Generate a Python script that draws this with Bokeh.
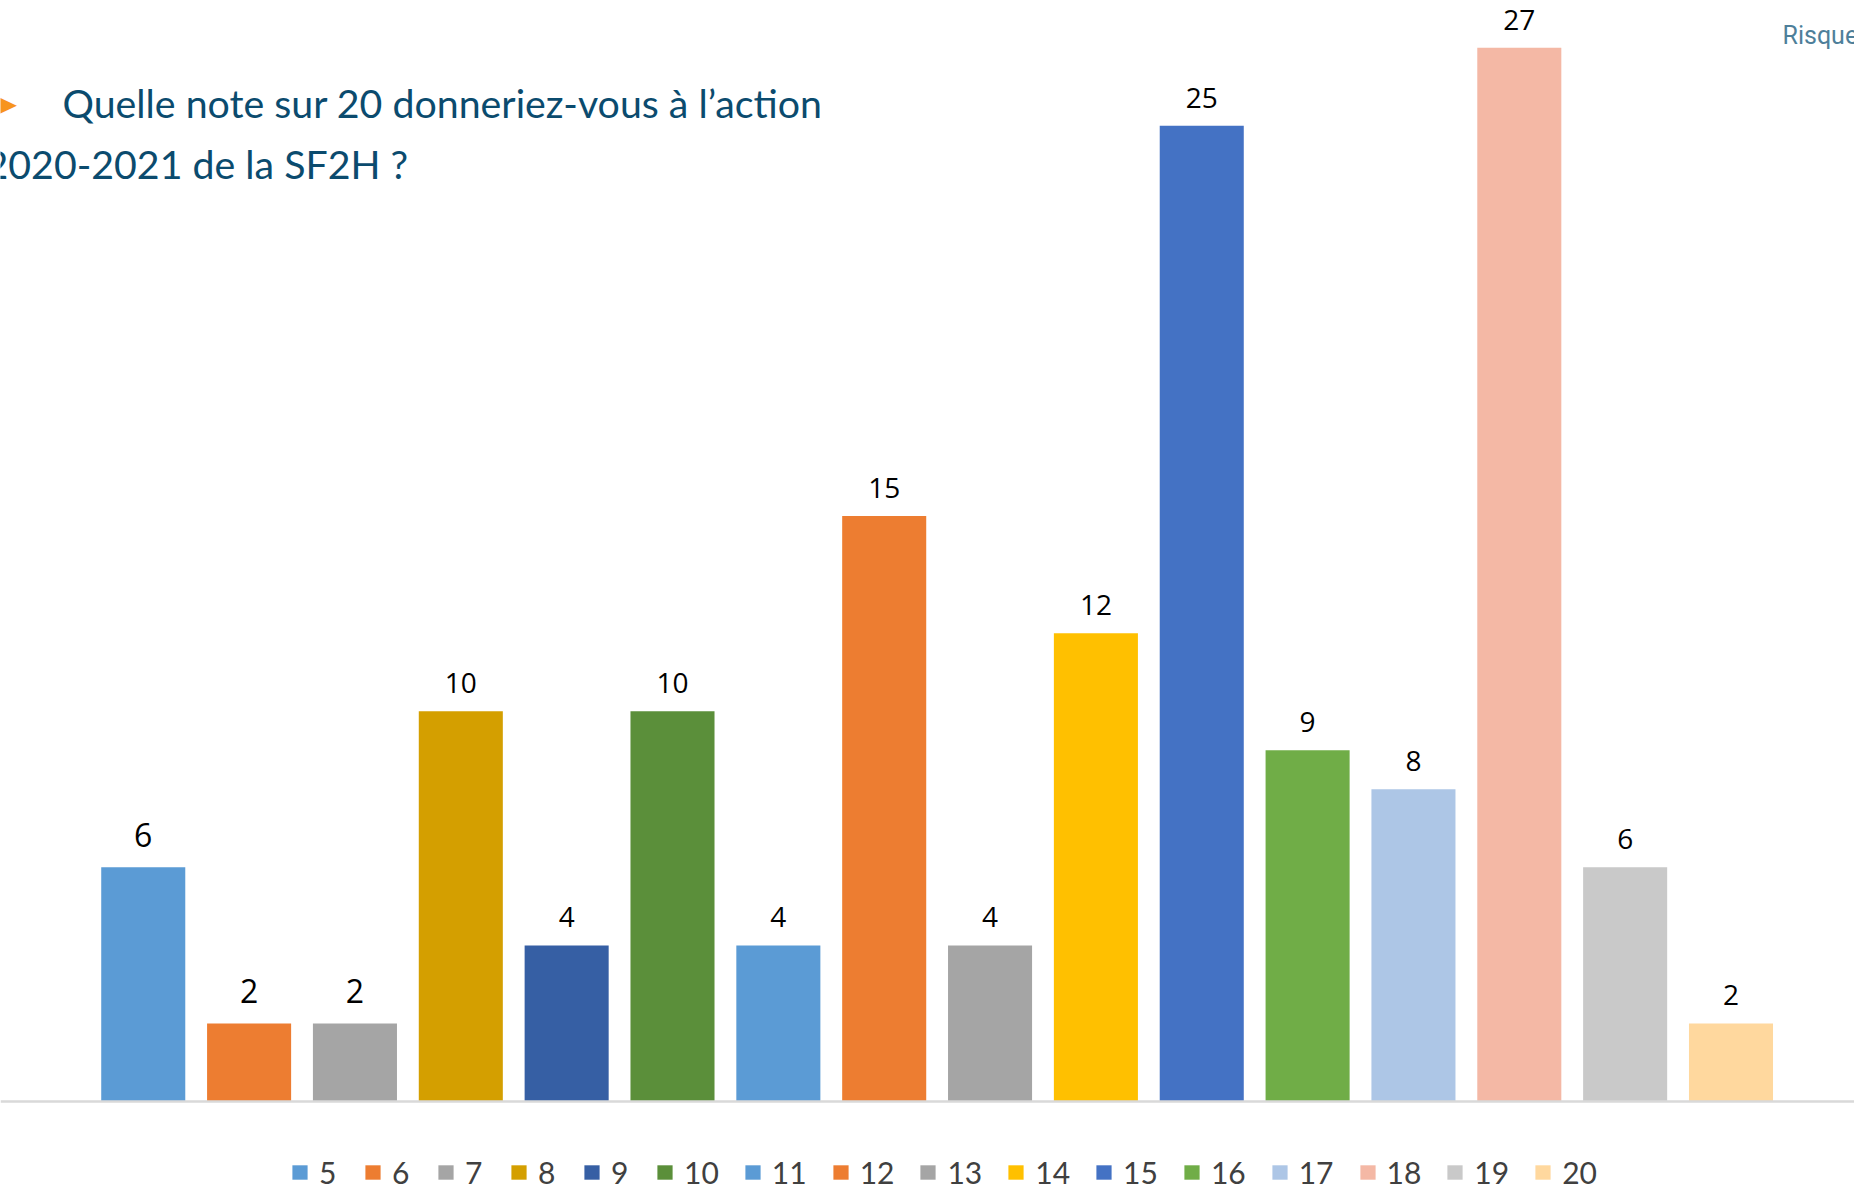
from bokeh.plotting import figure
from bokeh.models import ColumnDataSource, Range1d, Span, Legend, LegendItem, Label
from bokeh.core.properties import value
from bokeh.embed import file_html
from bokeh.resources import INLINE

# ---- data ----
categories = ["5", "6", "7", "8", "9", "10", "11", "12", "13", "14", "15", "16", "17", "18", "19", "20"]
counts = [6, 2, 2, 10, 4, 10, 4, 15, 4, 12, 25, 9, 8, 27, 6, 2]
palette = ["#5B9BD5", "#ED7D31", "#A5A5A5", "#D49F00", "#365FA4", "#5B8F3A",
           "#5B9BD5", "#ED7D31", "#A5A5A5", "#FFC000", "#4472C4", "#70AD47",
           "#ADC6E6", "#F4B8A5", "#C9C9C9", "#FFD89E"]
title_line1 = "Quelle note sur 20 donneriez-vous à l’action"
title_line2 = "2020-2021 de la SF2H ?"

# ---- layout (pixels) ----
W, H = 1854, 1191
px_per_cat = 105.85
first_center = 142.75
baseline_from_top = 1101.0
px_per_unit = 39.03

x_start = -first_center / px_per_cat
x_end = (W - first_center) / px_per_cat
y_end = baseline_from_top / px_per_unit
y_start = -(H - baseline_from_top) / px_per_unit

idx = list(range(len(categories)))
src = ColumnDataSource(dict(
    x=idx, top=counts, cat=categories, color=palette,
    lbl=[str(v) for v in counts],
    fs=["32px" if i < 3 else "28px" for i in idx],
    yo=[-32 if i < 3 else -28 for i in idx],
))

p = figure(width=W, height=H, output_backend="svg", toolbar_location=None,
           x_range=Range1d(x_start, x_end), y_range=Range1d(y_start, y_end),
           min_border=0, min_border_left=0, min_border_right=0,
           min_border_top=0, min_border_bottom=0)
p.outline_line_color = None
p.background_fill_color = "white"
p.border_fill_color = "white"
p.xgrid.visible = False
p.ygrid.visible = False
p.xaxis.visible = False
p.yaxis.visible = False

p.add_layout(Span(location=0, dimension="width", line_color="#D9D9D9", line_width=2.5))

bars = p.vbar(x="x", top="top", width=0.794, bottom=0, source=src,
              fill_color="color", line_color=None)

p.text(x="x", y="top", text="lbl", source=src, text_align="center",
       text_baseline="alphabetic", y_offset="yo", text_font=value("Open Sans"),
       text_font_size="fs", text_color="#000000")

items = [LegendItem(label=c, renderers=[bars], index=i) for i, c in enumerate(categories)]
legend = Legend(items=items, orientation="horizontal", location=(290, 1),
                glyph_width=19, glyph_height=18, label_standoff=10, spacing=24,
                padding=0, margin=0, border_line_alpha=0, background_fill_alpha=0,
                label_text_font="Lato", label_text_font_size="30px",
                label_text_color="#404040", label_height=18)
p.add_layout(legend, "center")

title_color = "#0B4B6E"
p.add_layout(Label(x=-12, y=H - 104, x_units="screen", y_units="screen", text="➤",
                   text_font="DejaVu Sans", text_font_size="36px", text_color="#F7941D",
                   text_baseline="alphabetic"))
p.add_layout(Label(x=62, y=H - 102, x_units="screen", y_units="screen", text=title_line1,
                   text_font="Lato", text_font_size="39.3px", text_color=title_color,
                   text_baseline="alphabetic"))
p.add_layout(Label(x=-15, y=H - 163, x_units="screen", y_units="screen", text=title_line2,
                   text_font="Lato", text_font_size="39.3px", text_color=title_color,
                   text_baseline="alphabetic"))
p.add_layout(Label(x=1782, y=H - 35, x_units="screen", y_units="screen", text="Risque",
                   text_font="Roboto", text_font_size="25px", text_color="#4E7F9A",
                   text_baseline="alphabetic"))

open("out.html", "w").write(file_html(p, INLINE))
